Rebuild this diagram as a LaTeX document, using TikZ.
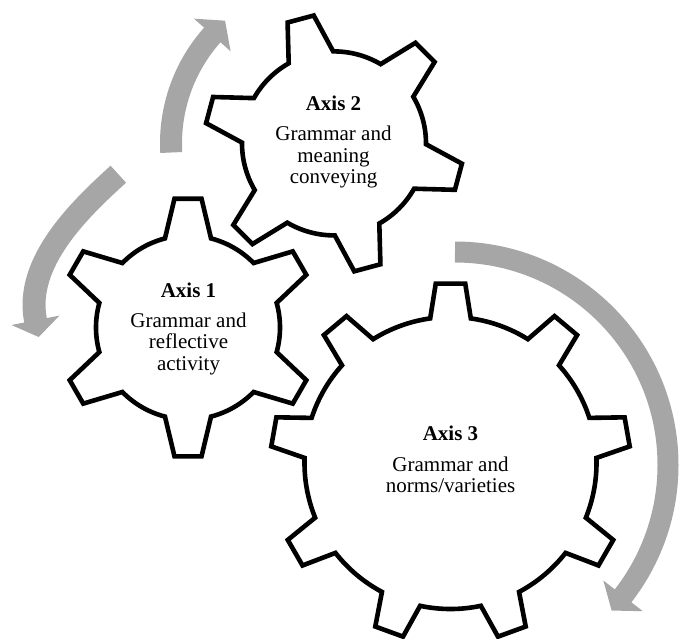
\documentclass[tikz,border=0pt]{standalone}
\usepackage{fontspec}
\setmainfont{Liberation Serif}
\usetikzlibrary{calc}
\definecolor{arrowgray}{RGB}{166,166,166}
% #1 teeth, #2 first tooth angle, #3 root radius, #4 outer radius, #5 root half-angle, #6 tip half-angle
\newcommand{\gearoutline}[6]{%
  \pgfmathsetmacro{\gstep}{360/#1}%
  \draw[gearline] (#2+#5:#3pt)
    \foreach \k in {1,...,#1}{
      arc[start angle={#2+(\k-1)*\gstep+#5}, end angle={#2+\k*\gstep-#5}, radius=#3pt]
      -- ({#2+\k*\gstep-#6}:#4pt) -- ({#2+\k*\gstep+#6}:#4pt) -- ({#2+\k*\gstep+#5}:#3pt)
    } -- cycle;
}
\begin{document}
\begin{tikzpicture}[x=1pt,y=1pt,
  gearline/.style={draw=black,line width=4.6pt,fill=white,line join=miter},
  band/.style={draw=arrowgray,line cap=butt},
  head/.style={fill=arrowgray},
  txt/.style={anchor=base,inner sep=0pt,font=\fontsize{21}{21.3}\selectfont}]
\useasboundingbox (0,0) rectangle (680,-638);

% ---- arrows ----
% upper arrow (around gear 2)
\begin{scope}[shift={(334,-143.4)}]
  \draw[band,line width=22pt] (183.2:163pt) arc[start angle=183.2, end angle=138.0, radius=163pt];
  \fill[head] (138.3:187.5pt) -- (138.3:138.5pt) -- (131.6:164.1pt) -- cycle;
\end{scope}
% left arrow
\draw[band,line width=23pt] (118.3,-174.2) .. controls (81.35,-207.9) and (24.1,-261.5) .. (35.5,-320.3) -- (35.8,-321.8);
\fill[head] (11.5,-325.0) -- (59.5,-315.6) -- (38.7,-337.0) -- cycle;
% right arrow (around gear 3)
\begin{scope}[shift={(455,-465)}]
  \draw[band,line width=21pt] (90:213pt) arc[start angle=90, end angle=-38.2, radius=213pt];
  \fill[head] (-37.9:238pt) -- (-37.9:188pt) -- (-42.9:213.8pt) -- cycle;
\end{scope}

% ---- gears ----
\begin{scope}[shift={(188,-327.5)}]
  \gearoutline{6}{90}{92}{129.5}{14.5}{6}
\end{scope}
\begin{scope}[shift={(334,-143.4)}]
  \gearoutline{6}{45}{92}{129.5}{14.5}{6}
\end{scope}
\begin{scope}[shift={(450.5,-463)}]
  \gearoutline{9}{90}{146}{180}{8}{4.7}
\end{scope}

% ---- texts ----
\node[txt] (ax1) at (188.5,-297.3) {\begin{tabular}[t]{@{}c@{}}\textbf{Axis 1}\\[9pt] Grammar and\\ reflective\\ activity\end{tabular}};
\node[txt] (ax2) at (333.5,-110.5) {\begin{tabular}[t]{@{}c@{}}\textbf{Axis 2}\\[9pt] Grammar and\\ meaning\\ conveying\end{tabular}};
\node[txt] (ax3) at (450.5,-440.7) {\begin{tabular}[t]{@{}c@{}}\textbf{Axis 3}\\[9pt] Grammar and\\ norms/varieties\end{tabular}};
\end{tikzpicture}
\end{document}
